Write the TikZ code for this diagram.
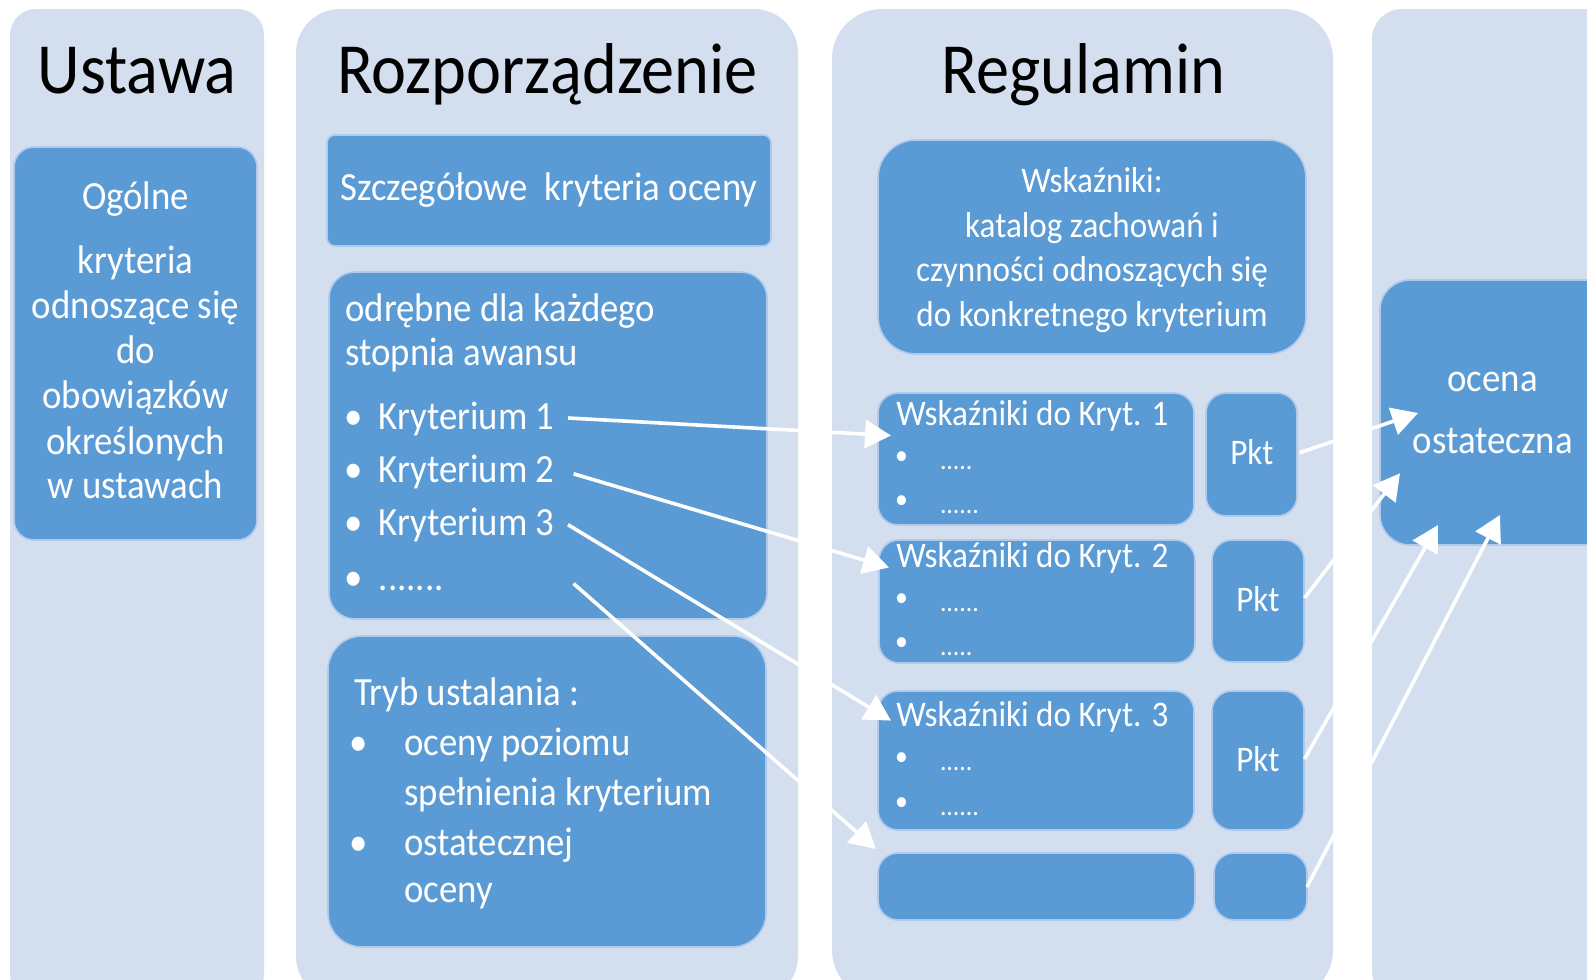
\documentclass[tikz,border=0pt]{standalone}
\usepackage{fontspec}
\newfontfamily\calf[FakeStretch=0.92]{Carlito}
\usetikzlibrary{arrows.meta,fit}
\definecolor{colbg}{RGB}{211,222,239}
\definecolor{boxbl}{RGB}{91,155,213}
\definecolor{boxedge}{RGB}{176,202,236}
\newcommand{\myfivedots}{.....}
\newcommand{\mysixdots}{......}
\newcommand{\mysevendots}{.......}
\begin{document}
\begin{tikzpicture}[x=0.5pt,y=-0.5pt,
  colbox/.style={fill=colbg, draw=none, inner sep=0pt},
  box/.style={fill=boxbl, draw=boxedge, line width=0.8pt, inner sep=0pt},
  ttl/.style={font=\calf\fontsize{36}{40}\selectfont, text=black, anchor=base, inner sep=0pt},
  bodyc/.style={font=\calf\fontsize{20}{24}\selectfont, text=white, anchor=base, inner sep=0pt},
  bodyl/.style={bodyc, anchor=base west},
  smallc/.style={font=\calf\fontsize{18}{22}\selectfont, text=white, anchor=base, inner sep=0pt},
  smalll/.style={smallc, anchor=base west},
  bulsm/.style={font=\calf\fontsize{14}{16}\selectfont, text=white, anchor=center, inner sep=0pt},
  dotsl/.style={font=\calf\fontsize{14}{16}\selectfont, text=white, anchor=base west, inner sep=0pt},
  arr/.style={draw=white, line width=1.8pt, -{Triangle[length=13pt,width=14pt]}}
]
\useasboundingbox (0,0) rectangle (1587,980);
\clip (0,0) rectangle (1587,980);
\fill[white] (0,0) rectangle (1587,980);

% columns
\node[colbox, rounded corners=13pt, fit={(10,9) (264,1000)}] (c1) {};
\node[colbox, rounded corners=22pt, fit={(296,9) (798,1000)}] (c2) {};
\node[colbox, rounded corners=25pt, fit={(832,9) (1333,1000)}] (c3) {};
\node[colbox, rounded corners=15pt, fit={(1372,9) (1660,1000)}] (c4) {};

% titles
\node[ttl] (t1) at (137,93) {Ustawa};
\node[ttl] (t2) at (547.5,93) {Rozporządzenie};
\node[ttl] (t3) at (1083.5,93) {Regulamin};

% Ustawa box
\node[box, rounded corners=10pt, fit={(14,147) (257,540)}] (og) {};
\foreach \t/\y [count=\i] in {Ogólne/209, kryteria/273, odnoszące się/318, do/363, obowiązków/408, określonych/454, w ustawach/498}
  \node[bodyc] (ogt\i) at (135.5,\y) {\t};

% Rozporzadzenie boxes
\node[box, rounded corners=4pt, fit={(327,135) (771,246)}] (sz) {};
\node[bodyc] (szt) at (549,200) {Szczegółowe~ kryteria oceny};

\node[box, rounded corners=13pt, fit={(329,272) (767,619)}] (od) {};
\node[bodyl] (odt1) at (345,321) {odrębne dla każdego};
\node[bodyl] (odt2) at (345,365) {stopnia awansu};
\foreach \t/\y [count=\i] in {Kryterium 1/429, Kryterium 2/482, Kryterium 3/535, \mysevendots/590}{
  \node[bodyc] (ob\i) at (353.6,\y) {•};
  \node[bodyl] (k\i) at (378.5,\y) {\t};
}

\node[box, rounded corners=17pt, fit={(328,636) (766,947)}] (tr) {};
\node[bodyl] (trt) at (353.6,705) {Tryb ustalania :};
\node[bodyc] (trb1) at (359,755) {•};
\node[bodyl] (trt1) at (404,755) {oceny poziomu};
\node[bodyl] (trt2) at (404,805) {spełnienia kryterium};
\node[bodyc] (trb2) at (359,855) {•};
\node[bodyl] (trt3) at (404,855) {ostatecznej};
\node[bodyl] (trt4) at (404,902) {oceny};

% Regulamin boxes
\node[box, rounded corners=19pt, fit={(878,140) (1306,354)}] (wk) {};
\node[smallc] (wkt1) at (1092,192) {Wskaźniki:};
\node[smallc] (wkt2) at (1092,237) {katalog zachowań i};
\node[smallc] (wkt3) at (1092,281) {czynności odnoszących się};
\node[smallc] (wkt4) at (1092,326) {do konkretnego kryterium};

\node[box, rounded corners=10pt, fit={(878,393) (1194,525)}] (kb1) {};
\node[box, rounded corners=10pt, fit={(879,540) (1195,663)}] (kb2) {};
\node[box, rounded corners=10pt, fit={(878,691) (1194,830)}] (kb3) {};
\node[box, rounded corners=10pt, fit={(878,853) (1195,920)}] (kb4) {};
\node[box, rounded corners=10pt, fit={(1206,393) (1297,516)}] (pk1) {};
\node[box, rounded corners=10pt, fit={(1212,540) (1304,662)}] (pk2) {};
\node[box, rounded corners=10pt, fit={(1212,691) (1304,830)}] (pk3) {};
\node[box, rounded corners=10pt, fit={(1214,853) (1307,920)}] (pk4) {};

\node[smalll] (kt1) at (896,425) {Wskaźniki do Kryt. 1};
\node[smalll] (kt2) at (896,567.5) {Wskaźniki do Kryt. 2};
\node[smalll] (kt3) at (896,726) {Wskaźniki do Kryt. 3};
\foreach \y/\d [count=\i] in {458.5/\myfivedots, 502.5/\mysixdots, 600/\mysixdots, 644/\myfivedots, 759/\myfivedots, 804/\mysixdots}{
  \node[bulsm] (kbb\i) at (901.5,\y) {•};
  \node[dotsl] (kbd\i) at (939.6,\y+11) {\d};
}
\node[smallc] (pt1) at (1251.8,464) {Pkt};
\node[smallc] (pt2) at (1257.8,611.5) {Pkt};
\node[smallc] (pt3) at (1257.8,771) {Pkt};

% final box
\node[box, rounded corners=15pt, fit={(1380,280) (1660,545)}] (oc) {};
\node[bodyc] (oct1) at (1492.7,391) {ocena};
\node[bodyc] (oct2) at (1492.7,453) {ostateczna};

% arrow end points
\coordinate (a1s) at (568,418);   \coordinate (a1e) at (891,435.5);
\coordinate (a2s) at (573.6,473.8); \coordinate (a2e) at (889,567.5);
\coordinate (a3s) at (568,524.7); \coordinate (a3e) at (891,720.6);
\coordinate (a4s) at (573.6,583.6); \coordinate (a4e) at (876,849);
\coordinate (b1s) at (1299.5,452.7); \coordinate (b1e) at (1418,413);
\coordinate (b2s) at (1304.5,598); \coordinate (b2e) at (1400,473.3);
\coordinate (b3s) at (1304.5,759); \coordinate (b3e) at (1438,525);
\coordinate (b4s) at (1307,887); \coordinate (b4e) at (1500,515);

\draw[arr] (a1s) -- (a1e);
\draw[arr] (a2s) -- (a2e);
\draw[arr] (a3s) -- (a3e);
\draw[arr] (a4s) -- (a4e);
\draw[arr] (b1s) -- (b1e);
\draw[arr] (b2s) -- (b2e);
\draw[arr] (b3s) -- (b3e);
\draw[arr] (b4s) -- (b4e);
\end{tikzpicture}
\end{document}
